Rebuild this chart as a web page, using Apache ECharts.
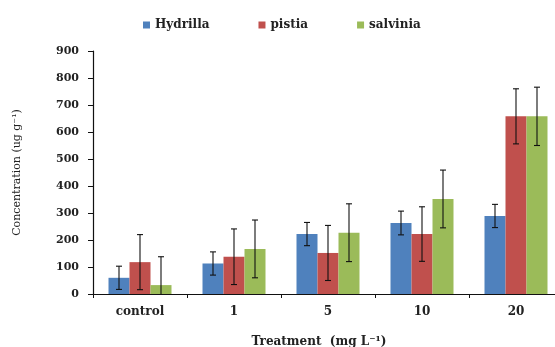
<!DOCTYPE html>
<html><head><meta charset="utf-8">
<script src="https://cdn.jsdelivr.net/npm/echarts@6/dist/echarts.min.js"></script>
<style>html,body{margin:0;padding:0;background:#fff}#c{width:555px;height:347px}</style>
</head><body><div id="c"></div>
<script>
const categories = ['control', '1', '5', '10', '20'];
const seriesNames = ['Hydrilla', 'pistia', 'salvinia'];
const hydrilla = [60, 113, 222, 263, 289];
const pistia = [118, 138, 152, 222, 658];
const salvinia = [33, 167, 227, 352, 658];
const hydrillaErr = [43, 43, 43, 44, 43];
const pistiaErr = [102, 103, 102, 101, 102];
const salviniaErr = [105, 107, 107, 107, 108];
const yTicks = [0, 100, 200, 300, 400, 500, 600, 700, 800, 900];

const colors = ['#4F81BD', '#C0504D', '#9BBB59'];
const BAR_W = 21;
const FONT = 'DejaVu Serif';
const values = [hydrilla, pistia, salvinia];
const errs = [hydrillaErr, pistiaErr, salviniaErr];

const chart = echarts.init(document.getElementById('c'));

function errSeries(k) {
  const data = categories.map((c, i) => [i, values[k][i], errs[k][i]]);
  return {
    type: 'custom',
    name: seriesNames[k] + '_err',
    data: data,
    z: 10,
    silent: true,
    renderItem: function (params, api) {
      const i = api.value(0), v = api.value(1), e = api.value(2);
      const lo = Math.max(0, v - e), hi = v + e;
      const pHi = api.coord([i, hi]);
      const pLo = api.coord([i, lo]);
      const x = pHi[0] + (k - 1) * BAR_W;
      const cap = 3;
      const st = { stroke: '#111', lineWidth: 1.1 };
      const children = [
        { type: 'line', shape: { x1: x, y1: pHi[1], x2: x, y2: pLo[1] }, style: st },
        { type: 'line', shape: { x1: x - cap, y1: pHi[1], x2: x + cap, y2: pHi[1] }, style: st }
      ];
      if (v - e > 0) {
        children.push({ type: 'line', shape: { x1: x - cap, y1: pLo[1], x2: x + cap, y2: pLo[1] }, style: st });
      }
      return { type: 'group', children: children };
    }
  };
}

const option = {
  animation: false,
  backgroundColor: '#fff',
  color: colors,
  legend: {
    data: seriesNames,
    left: 138,
    top: 14,
    itemWidth: 7,
    itemHeight: 7,
    itemGap: 49,
    icon: 'rect',
    textStyle: { fontFamily: FONT, fontSize: 12, fontWeight: 'bold', color: '#222' }
  },
  grid: { left: 93, top: 51, bottom: 53, right: -8, containLabel: false, outerBoundsMode: 'none' },
  xAxis: {
    type: 'category',
    data: categories,
    axisLine: { lineStyle: { color: '#111', width: 1.2 } },
    axisTick: { show: true, length: 4, lineStyle: { color: '#111' } },
    axisLabel: { fontFamily: FONT, fontSize: 12, fontWeight: 'bold', color: '#222', margin: 12 },
    name: 'Treatment  (mg L⁻¹)',
    nameLocation: 'middle',
    nameGap: 42,
    nameTextStyle: { fontFamily: FONT, fontSize: 12, fontWeight: 'bold', color: '#222', padding: [0, 18, 0, 0] }
  },
  yAxis: {
    type: 'value',
    min: 0,
    max: 900,
    interval: 100,
    splitLine: { show: false },
    axisLine: { show: true, lineStyle: { color: '#111', width: 1.2 } },
    axisTick: { show: true, length: 5, lineStyle: { color: '#111' } },
    axisLabel: {
      fontFamily: FONT, fontSize: 11, fontWeight: 'bold', color: '#222', margin: 14,
      formatter: function (v) { return yTicks.indexOf(v) >= 0 ? String(v) : ''; }
    },
    name: 'Concentration (ug g⁻¹)',
    nameLocation: 'middle',
    nameGap: 70,
    nameTextStyle: { fontFamily: FONT, fontSize: 11, color: '#222' }
  },
  series: seriesNames.map((n, k) => ({
    type: 'bar',
    name: n,
    data: values[k],
    barWidth: BAR_W,
    barGap: '0%',
    itemStyle: { color: colors[k] }
  })).concat([0, 1, 2].map(errSeries))
};
chart.setOption(option);
</script>
</body></html>
